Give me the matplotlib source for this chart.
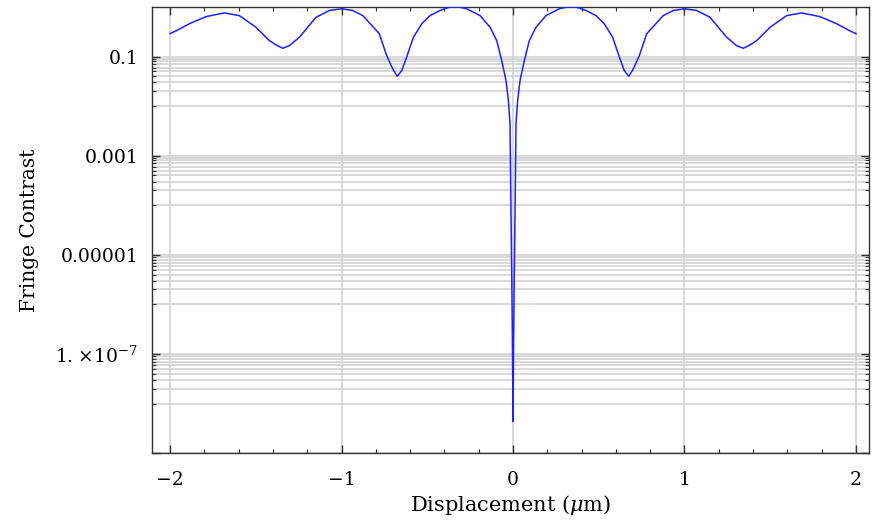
import matplotlib
matplotlib.use("Agg")
import matplotlib.pyplot as plt
from matplotlib.ticker import FixedLocator, NullFormatter, MultipleLocator

# Displacement (um) and fringe contrast
displacement_um = [
    -2.0, -1.965, -1.887, -1.79, -1.683, -1.596, -1.499, -1.421, -1.38, -1.343,
    -1.304, -1.246, -1.149, -1.071, -1.0, -0.935, -0.876, -0.78, -0.737, -0.70,
    -0.675, -0.649, -0.62, -0.581, -0.532, -0.484, -0.426, -0.37, -0.34, -0.31,
    -0.27, -0.192, -0.134, -0.095, -0.066, -0.041, -0.027, -0.0175, -0.012, -0.007,
    -0.003, 0.0,
    0.003, 0.007, 0.012, 0.0175, 0.027, 0.041, 0.066, 0.095, 0.134, 0.192,
    0.27, 0.31, 0.34, 0.37, 0.426, 0.484, 0.532, 0.581, 0.62, 0.649,
    0.675, 0.70, 0.737, 0.78, 0.876, 0.935, 1.0, 1.071, 1.149, 1.246,
    1.304, 1.343, 1.38, 1.421, 1.499, 1.596, 1.683, 1.79, 1.887, 1.965, 2.0,
]
fringe_contrast = [
    0.29, 0.33, 0.46, 0.64, 0.76, 0.67, 0.39, 0.21, 0.17, 0.147,
    0.166, 0.245, 0.62, 0.85, 0.92, 0.85, 0.67, 0.29, 0.105, 0.055,
    0.040, 0.052, 0.098, 0.245, 0.46, 0.67, 0.85, 0.99, 1.0, 0.99,
    0.92, 0.67, 0.39, 0.21, 0.083, 0.033, 0.013, 4.5e-3, 8.3e-5, 3.0e-6,
    1.2e-7, 4.3e-9,
    1.2e-7, 3.0e-6, 8.3e-5, 4.5e-3, 0.013, 0.033, 0.083, 0.21, 0.39, 0.67,
    0.92, 0.99, 1.0, 0.99, 0.85, 0.67, 0.46, 0.245, 0.098, 0.052,
    0.040, 0.055, 0.105, 0.29, 0.67, 0.85, 0.92, 0.85, 0.62, 0.245,
    0.166, 0.147, 0.17, 0.21, 0.39, 0.67, 0.76, 0.64, 0.46, 0.33, 0.29,
]

x_ticks = [-2, -1, 0, 1, 2]
x_tick_labels = ["\u22122", "\u22121", "0", "1", "2"]
y_major = [1e-9, 1e-7, 1e-5, 1e-3, 1e-1]
y_major_labels = ["", r"$1.\!\times\!10^{-7}$", "0.00001", "0.001", "0.1"]
y_minor = [k * 10.0 ** e for e in (-2, -4, -6, -8) for k in range(2, 10)] + [1e-2, 1e-4, 1e-6, 1e-8]

plt.rcParams["font.family"] = ["DejaVu Serif"]
plt.rcParams["mathtext.fontset"] = "dejavuserif"

fig = plt.figure(figsize=(8.79, 5.22), dpi=100)
ax = fig.add_axes([0.173, 0.132, 0.8156, 0.8546])

grid_c = "#d3d3d3"
for v in y_major + y_minor:
    ax.axhline(v, color=grid_c, lw=1.2, zorder=0)
for v in x_ticks:
    ax.axvline(v, color=grid_c, lw=1.2, zorder=0)

ax.plot(displacement_um, fringe_contrast, color="#1f1fff", lw=1.1, zorder=3)

ax.set_yscale("log")
ax.set_xlim(-2.105, 2.076)
ax.set_ylim(1e-9, 1.0)

ax.xaxis.set_major_locator(FixedLocator(x_ticks))
ax.set_xticklabels(x_tick_labels)
ax.xaxis.set_minor_locator(MultipleLocator(0.2))
ax.yaxis.set_major_locator(FixedLocator(y_major))
ax.set_yticklabels(y_major_labels)
ax.yaxis.set_minor_locator(FixedLocator(y_minor))
ax.yaxis.set_minor_formatter(NullFormatter())

ax.tick_params(which="both", direction="in", top=True, right=True, color="#333333")
ax.tick_params(which="major", length=6, width=1)
ax.tick_params(which="minor", length=3, width=0.8)
ax.tick_params(axis="x", which="major", pad=13, labelsize=13.5)
ax.tick_params(axis="y", which="major", pad=10, labelsize=13.5)

for s in ax.spines.values():
    s.set_color("#333333")
    s.set_linewidth(1.0)

ax.set_xlabel(r"Displacement ($\mu$m)", fontsize=15, labelpad=3)
ax.set_ylabel("Fringe Contrast", fontsize=14.5, labelpad=12)

fig.savefig("out.png", dpi=100)
